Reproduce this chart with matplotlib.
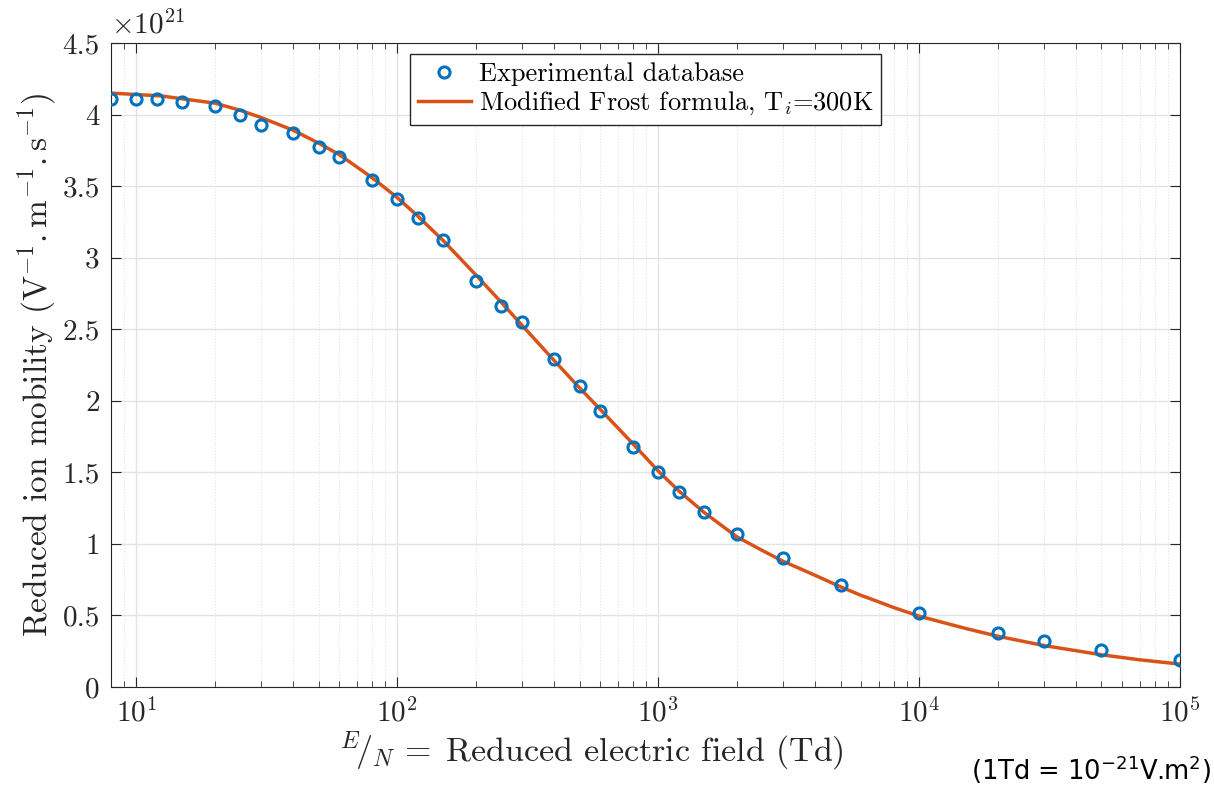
import numpy as np
import matplotlib
matplotlib.use("Agg")
import matplotlib.pyplot as plt
from matplotlib.ticker import LogLocator, NullFormatter, MultipleLocator, FuncFormatter

plt.rcParams['font.family'] = 'serif'
plt.rcParams['font.serif'] = ['cmr10', 'DejaVu Serif']
plt.rcParams['mathtext.fontset'] = 'cm'
plt.rcParams['axes.unicode_minus'] = False
plt.rcParams['axes.formatter.use_mathtext'] = True

# experimental points: E/N (Td), mobility (x1e21 V^-1 m^-1 s^-1)
exp_field = [8, 10, 12, 15, 20, 25, 30, 40, 50, 60, 80, 100, 120, 150, 200, 250, 300,
             400, 500, 600, 800, 1000, 1200, 1500, 2000, 3000, 5000, 1e4, 2e4, 3e4, 5e4, 1e5]
exp_mob = [4.11, 4.11, 4.11, 4.09, 4.06, 4.00, 3.93, 3.87, 3.77, 3.70, 3.54, 3.41, 3.28,
           3.12, 2.84, 2.66, 2.55, 2.29, 2.10, 1.93, 1.68, 1.50, 1.36, 1.22, 1.07, 0.90,
           0.71, 0.52, 0.38, 0.32, 0.26, 0.19]

# modified Frost formula curve
fit_field = [8, 10, 12.5, 15, 20, 25, 30, 40, 50, 60, 80, 100, 120, 150, 200, 250, 300,
             400, 500, 600, 800, 1000, 1200, 1500, 2000, 2500, 3000, 4000, 5000, 6000, 7000,
             8000, 1e4, 1.5e4, 2e4, 3e4, 5e4, 7e4, 1e5]
fit_mob = [4.15, 4.14, 4.13, 4.11, 4.08, 4.03, 3.98, 3.89, 3.80, 3.72, 3.56, 3.42, 3.29,
           3.12, 2.88, 2.69, 2.53, 2.28, 2.09, 1.94, 1.70, 1.51, 1.37, 1.22, 1.05, 0.955,
           0.88, 0.78, 0.70, 0.64, 0.595, 0.555, 0.495, 0.41, 0.355, 0.29, 0.225, 0.19, 0.16]

blue = '#0072BD'
orange = '#D95319'
dark = '#262626'

fig = plt.figure(figsize=(12.14, 7.92), dpi=100)
ax = fig.add_axes([0.0914, 0.1326, 0.8806, 0.8131])

ax.plot(exp_field, exp_mob, 'o', ls='none', mfc='none', mec=blue, mew=2.2, ms=8,
        label='Experimental database', zorder=3)
ax.plot(fit_field, fit_mob, '-', color=orange, lw=2.5,
        label=r'Modified Frost formula, T$_i$=300K', zorder=2)

ax.set_xscale('log')
ax.set_xlim(8, 1e5)
ax.set_ylim(0, 4.5)
ax.yaxis.set_major_locator(MultipleLocator(0.5))
ax.yaxis.set_major_formatter(FuncFormatter(lambda v, p: ('%g' % v)))
ax.xaxis.set_major_locator(LogLocator(base=10, numticks=10))
ax.xaxis.set_minor_locator(LogLocator(base=10, subs=np.arange(2, 10), numticks=20))
ax.xaxis.set_minor_formatter(NullFormatter())

ax.grid(True, which='major', color='#e3e3e3', lw=1)
ax.grid(True, which='minor', axis='x', color='#e3e3e3', lw=0.8, ls=':')
ax.set_axisbelow(True)
ax.tick_params(which='both', direction='in', top=True, right=True, labelsize=21,
               color=dark, labelcolor=dark)
ax.tick_params(which='major', length=7, pad=8)
ax.tick_params(which='minor', length=4)
for s in ax.spines.values():
    s.set_color(dark)

ax.set_ylabel(r'Reduced ion mobility $(\mathrm{V^{-1}.m^{-1}.s^{-1}})$', fontsize=24,
              color=dark, labelpad=3)
ax.set_xlabel(r'$^{E}\!/_{N}\,=\;$Reduced electric field (Td)', fontsize=24.5,
              color=dark)
ax.xaxis.set_label_coords(0.449, -0.066, transform=ax.transAxes)
ax.text(0.0, 1.006, r'$\times10^{21}$', transform=ax.transAxes, fontsize=21,
        color=dark, ha='left', va='bottom')

leg = ax.legend(loc='upper center', bbox_to_anchor=(0.5, 0.995), fontsize=19,
                frameon=True, fancybox=False, edgecolor=dark, framealpha=1,
                handlelength=2.0, handletextpad=0.3, borderpad=0.3, labelspacing=0.15,
                borderaxespad=0.3)
leg.get_frame().set_linewidth(1)

fig.text(0.997, 0.008, r'(1Td = 10$^{-21}$V.m$^{2}$)', family='DejaVu Sans',
         math_fontfamily='dejavusans', fontsize=18.5, ha='right', va='bottom')

fig.savefig('out.png', dpi=100)
